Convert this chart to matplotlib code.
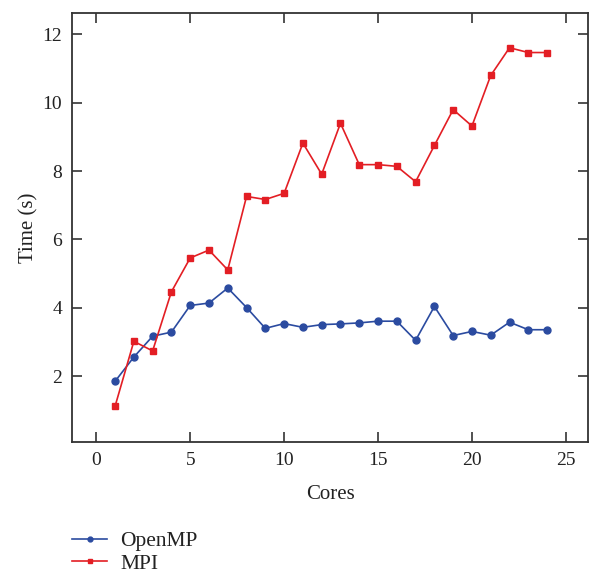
import matplotlib.pyplot as plt

plt.rcParams['font.family'] = ['Liberation Serif', 'DejaVu Serif']

# 数据
cores = list(range(1, 25))
openmp = [1.85, 2.56, 3.17, 3.29, 4.07, 4.14, 4.58, 4.01, 3.40, 3.54, 3.43, 3.51,
          3.53, 3.56, 3.61, 3.61, 3.05, 4.04, 3.19, 3.31, 3.20, 3.58, 3.36, 3.36]
mpi = [1.12, 3.02, 2.74, 4.47, 5.46, 5.69, 5.11, 7.26, 7.17, 7.35, 8.82, 7.91,
       9.40, 8.19, 8.19, 8.14, 7.69, 8.75, 9.80, 9.32, 10.80, 11.61, 11.47, 11.47]
xticks = [0, 5, 10, 15, 20, 25]
yticks = [2, 4, 6, 8, 10, 12]

blue = '#2b4ba0'
red = '#e31e24'

fig = plt.figure(figsize=(5.89, 5.75), dpi=100)
ax = fig.add_axes([0.122, 0.231, 0.877, 0.746])

ax.plot(cores, openmp, color=blue, lw=1.2, marker='o', ms=5, label='OpenMP')
ax.plot(cores, mpi, color=red, lw=1.2, marker='s', ms=5, label='MPI')

ax.set_xlim(-1.3, 26.2)
ax.set_ylim(0.07, 12.62)
ax.set_xticks(xticks)
ax.set_yticks(yticks)
ax.tick_params(direction='in', length=7.5, width=1.2, colors='#333333',
               labelcolor='#222222', labelsize=14, top=True, right=True, pad=7)
for s in ax.spines.values():
    s.set_color('#333333')
    s.set_linewidth(1.3)

ax.set_xlabel('Cores', fontsize=15, labelpad=11.5, color='#222222')
ax.set_ylabel('Time (s)', fontsize=15, labelpad=3, color='#222222')

leg = fig.legend(loc='upper left', bbox_to_anchor=(0.122, 0.076), frameon=False,
                 fontsize=15.5, handlelength=1.65, markerscale=0.7,
                 labelspacing=0.1, handletextpad=0.6, borderpad=0, borderaxespad=0)
for t in leg.get_texts():
    t.set_color('#222222')

fig.savefig('out.png', dpi=100)
